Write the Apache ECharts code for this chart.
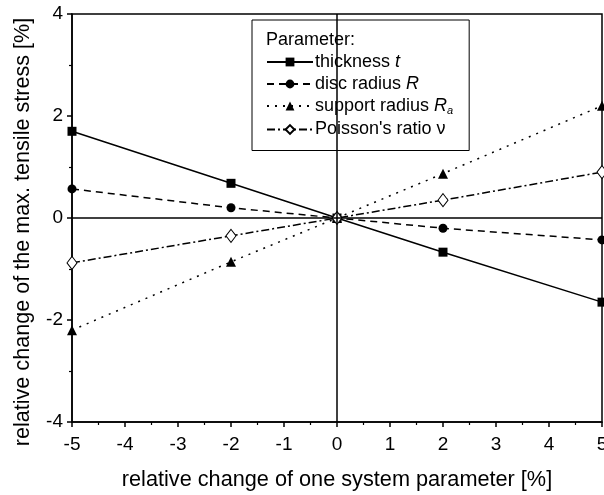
<!DOCTYPE html>
<html><head><meta charset="utf-8">
<script src="https://cdn.jsdelivr.net/npm/echarts@6/dist/echarts.min.js"></script>
<style>html,body{margin:0;padding:0;background:#fff}#c{width:604px;height:495px}</style>
</head><body><div id="c"></div>
<script>
const xValues = [-5, -2, 0, 2, 5];
const thickness = [1.70, 0.68, 0, -0.67, -1.65];
const discRadius = [0.57, 0.20, 0, -0.20, -0.43];
const supportRadius = [-2.20, -0.86, 0, 0.87, 2.20];
const poisson = [-0.88, -0.35, 0, 0.35, 0.90];
const seriesNames = ['thickness', 'disc', 'support', 'poisson'];
const legendLabels = {
  thickness: 'thickness {i|t}',
  disc: 'disc radius {i|R}',
  support: 'support radius {i|R}{sub|a}',
  poisson: "Poisson's ratio ν"
};
const xTitle = 'relative change of one system parameter [%]';
const yTitle = 'relative change of the max. tensile stress [%]';

const pair = arr => xValues.map((x, i) => [x, arr[i]]);
const font = 'Liberation Sans, Arial, sans-serif';

const chart = echarts.init(document.getElementById('c'), null, {renderer: 'canvas'});
chart.setOption({
  animation: false,
  backgroundColor: '#fff',
  textStyle: {fontFamily: font, color: '#000'},
  grid: {left: 72, right: 2, top: 14, bottom: 73, show: true, borderColor: '#000', borderWidth: 1.5,
         backgroundColor: 'transparent', outerBoundsMode: 'none', containLabel: false},
  xAxis: {
    type: 'value', min: -5, max: 5, interval: 1,
    name: xTitle, nameLocation: 'middle', nameGap: 47,
    nameTextStyle: {fontSize: 21.7, fontFamily: font, color: '#000'},
    axisLine: {show: true, onZero: false, lineStyle: {color: '#000', width: 1.5}},
    axisTick: {show: true, inside: false, length: 5, lineStyle: {color: '#000', width: 1.5}},
    minorTick: {show: true, splitNumber: 2, length: 3, lineStyle: {color: '#000', width: 1.2}},
    axisLabel: {fontSize: 19, color: '#000', fontFamily: font, margin: 13},
    splitLine: {show: false}
  },
  yAxis: {
    type: 'value', min: -4, max: 4, interval: 2,
    name: yTitle, nameLocation: 'middle', nameGap: 38,
    nameTextStyle: {fontSize: 21.6, fontFamily: font, color: '#000', padding: [0, 28, 0, 0]},
    axisLine: {show: true, onZero: false, lineStyle: {color: '#000', width: 1.5}},
    axisTick: {show: true, inside: false, length: 5, lineStyle: {color: '#000', width: 1.5}},
    minorTick: {show: true, splitNumber: 2, length: 3, lineStyle: {color: '#000', width: 1.2}},
    axisLabel: {fontSize: 19, color: '#000', fontFamily: font, margin: 9},
    splitLine: {show: false}
  },
  legend: {
    orient: 'vertical', left: 252, top: 20,
    data: seriesNames,
    padding: [33, 16, 12, 14],
    itemGap: 4, itemWidth: 46, itemHeight: 11,
    borderColor: '#000', borderWidth: 1, backgroundColor: '#fff',
    formatter: n => legendLabels[n],
    textStyle: {
      fontSize: 18, fontFamily: font, color: '#000', padding: [0, 0, 0, -3],
      rich: {
        i: {fontStyle: 'italic', fontSize: 18, fontFamily: font},
        sub: {fontStyle: 'italic', fontSize: 11, fontFamily: font, verticalAlign: 'bottom', padding: [10, 0, 0, 0]}
      }
    }
  },
  graphic: [{
    type: 'text', left: 266, top: 31, z: 100,
    style: {text: 'Parameter:', font: '18px ' + font, fill: '#000'}
  }],
  series: [
    {
      name: 'thickness', type: 'line', data: pair(thickness),
      symbol: 'rect', symbolSize: 9, color: '#000',
      lineStyle: {color: '#000', width: 1.5, type: 'solid'},
      itemStyle: {color: '#000'},
      markLine: {
        silent: true, symbol: 'none', label: {show: false},
        lineStyle: {color: '#000', width: 1.5, type: 'solid'},
        data: [{yAxis: 0}, {xAxis: 0}]
      }
    },
    {
      name: 'disc', type: 'line', data: pair(discRadius),
      symbol: 'circle', symbolSize: 9, color: '#000',
      lineStyle: {color: '#000', width: 1.5, type: [7, 5]},
      itemStyle: {color: '#000'}
    },
    {
      name: 'support', type: 'line', data: pair(supportRadius),
      symbol: 'triangle', symbolSize: 10, color: '#000',
      lineStyle: {color: '#000', width: 1.5, type: [2, 6]},
      itemStyle: {color: '#000'}
    },
    {
      name: 'poisson', type: 'line', data: pair(poisson),
      symbol: 'diamond', symbolSize: [10, 13], color: '#000',
      lineStyle: {color: '#000', width: 1.5, type: [8, 3, 2, 3]},
      itemStyle: {color: '#fff', borderColor: '#000', borderWidth: 1}
    }
  ]
});
</script></body></html>
